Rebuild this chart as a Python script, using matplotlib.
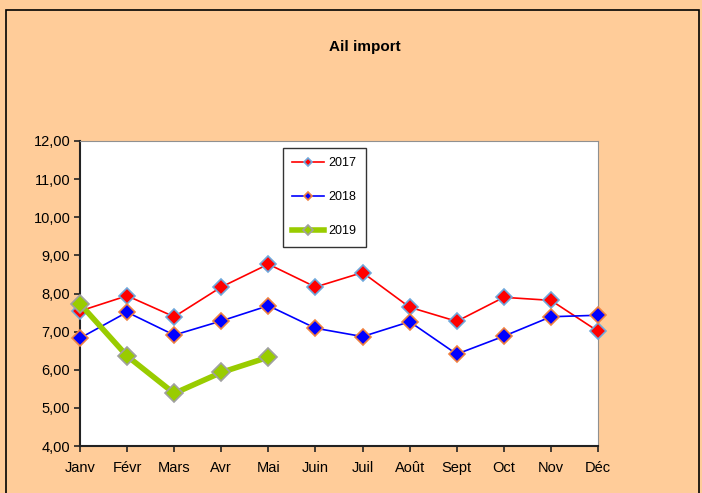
import matplotlib
matplotlib.use("Agg")
import matplotlib.pyplot as plt
from matplotlib.patches import Rectangle

plt.rcParams['font.family'] = ['Liberation Sans', 'DejaVu Sans']

months = ["Janv", "Févr", "Mars", "Avr", "Mai", "Juin", "Juil", "Août", "Sept", "Oct", "Nov", "Déc"]
s2017 = [7.54, 7.94, 7.39, 8.17, 8.77, 8.17, 8.55, 7.64, 7.27, 7.90, 7.82, 7.01]
s2018 = [6.83, 7.51, 6.91, 7.28, 7.68, 7.09, 6.87, 7.26, 6.41, 6.88, 7.39, 7.43]
s2019 = [7.73, 6.36, 5.38, 5.93, 6.33]
yticks = [4, 5, 6, 7, 8, 9, 10, 11, 12]
ytick_labels = ["4,00", "5,00", "6,00", "7,00", "8,00", "9,00", "10,00", "11,00", "12,00"]

bg = "#FFCC99"
fig = plt.figure(figsize=(7.02, 4.93), dpi=100, facecolor=bg)
fig.patches.append(Rectangle((6/702, -0.01), (699-6)/702, (493-10)/493 + 0.01,
                             transform=fig.transFigure, fill=False,
                             edgecolor="black", linewidth=1.2))
ax = fig.add_axes([80/702, 1 - 446/493, (598-80)/702, (446-141)/493])
ax.set_facecolor("white")

x = list(range(len(months)))
ax.plot(x, s2017, color="#FF0000", lw=1.2, marker="D", ms=8,
        markerfacecolor="#FF0000", markeredgecolor="#6FA8DC", markeredgewidth=1.2,
        label="2017", zorder=3, clip_on=False)
ax.plot(x, s2018, color="#0000FF", lw=1.2, marker="D", ms=8,
        markerfacecolor="#0000FF", markeredgecolor="#F08040", markeredgewidth=1.2,
        label="2018", zorder=3, clip_on=False)
ax.plot(x[:len(s2019)], s2019, color="#99CC00", lw=4, marker="D", ms=9,
        markerfacecolor="#99CC00", markeredgecolor="#A0A0A0", markeredgewidth=1.2,
        label="2019", zorder=4, clip_on=False)

ax.set_xlim(0, 11)
ax.set_ylim(4, 12)
ax.set_xticks(x)
ax.set_xticklabels(months, fontsize=10.5)
ax.set_yticks(yticks)
ax.set_yticklabels(ytick_labels, fontsize=10.5)
ax.tick_params(axis="both", direction="out", length=4, width=1.2, color="#222222")
ax.tick_params(axis="x", pad=7)
ax.tick_params(axis="y", pad=3)
for s in ["left", "bottom"]:
    ax.spines[s].set_color("#222222")
    ax.spines[s].set_linewidth(1.5)
for s in ["top", "right"]:
    ax.spines[s].set_color("#909090")
    ax.spines[s].set_linewidth(0.8)

leg = ax.legend(loc="upper left", bbox_to_anchor=((283-80)/518, (446-148)/305),
                borderaxespad=0, fontsize=9, frameon=True, fancybox=False,
                edgecolor="black", handlelength=2.5, labelspacing=1.75,
                borderpad=0.75, markerscale=0.55, handletextpad=0.4)
leg.get_frame().set_linewidth(1.0)

fig.text(365/702, 1 - 47/493, "Ail import", ha="center", va="center",
         fontsize=11, fontweight="bold")

fig.savefig("out.png", dpi=100, facecolor=bg)
